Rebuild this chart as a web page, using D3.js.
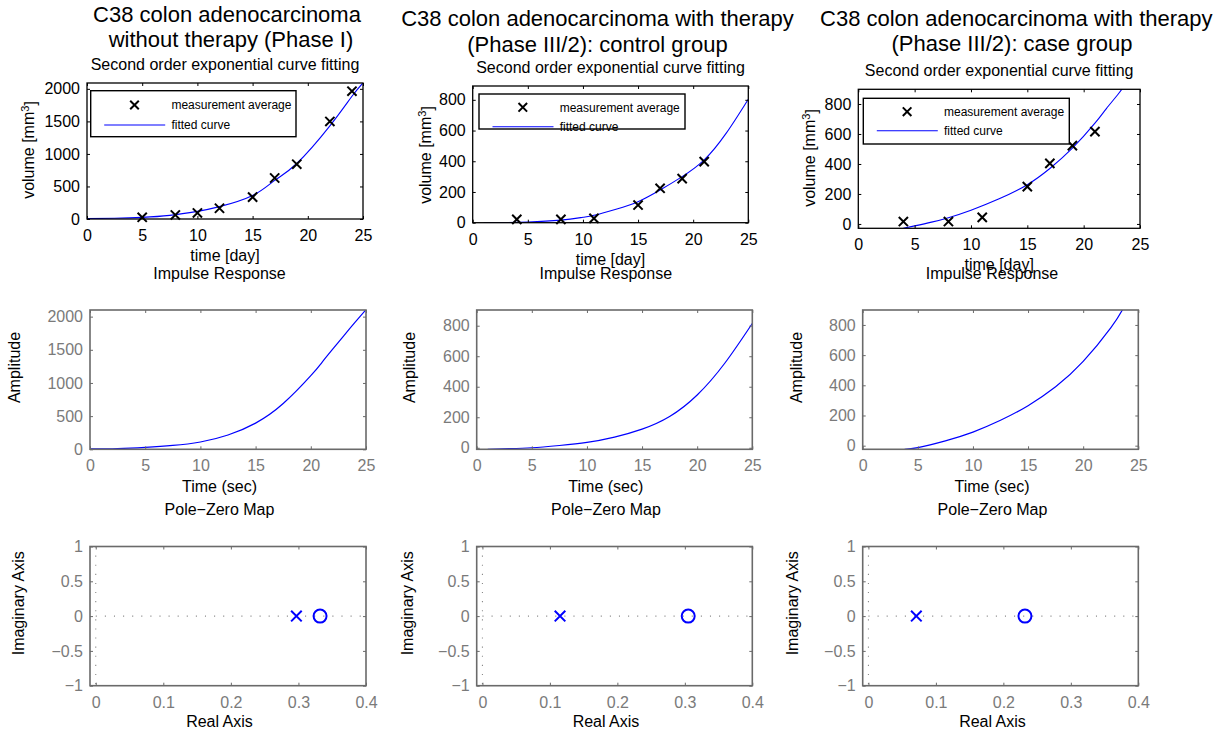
<!DOCTYPE html>
<html>
<head>
<meta charset="utf-8">
<script src="https://cdn.jsdelivr.net/npm/d3@7"></script>
<style>
  html, body { margin: 0; padding: 0; background: #fff; }
  svg { display: block; }
</style>
</head>
<body>
<script>
// ---------------- DATA ----------------
const mainTitles = [
  ["C38 colon adenocarcinoma", "without therapy (Phase I)"],
  ["C38 colon adenocarcinoma with therapy", "(Phase III/2): control group"],
  ["C38 colon adenocarcinoma with therapy", "(Phase III/2): case group"]
];
const fitTitle = "Second order exponential curve fitting";
const impulseTitle = "Impulse Response";
const pzTitle = "Pole\u2212Zero Map";
const legendLabels = ["measurement average", "fitted curve"];

const xTicksDay = [0, 5, 10, 15, 20, 25];
const yTicksLarge = [0, 500, 1000, 1500, 2000];
const yTicksSmall = [0, 200, 400, 600, 800];
const xTicksPZ = [0, 0.1, 0.2, 0.3, 0.4];
const yTicksPZ = [-1, -0.5, 0, 0.5, 1];

// measurement averages (day, volume mm^3)
const daysP1 = [5, 8, 10, 12, 15, 17, 19, 22, 24];
const volP1  = [26, 62, 93, 165, 336, 630, 842, 1499, 1964];
const daysP2 = [4, 8, 11, 15, 17, 19, 21];
const volP2  = [22, 22, 28, 115, 224, 287, 398];
const daysP3 = [4, 8, 11, 15, 17, 19, 21];
const volP3  = [16, 16, 44, 249, 404, 522, 616];

// fitted curves
const fitT1 = [0, 2.5, 5, 7.5, 10, 12, 15, 17, 19, 22, 24, 25];
const fitV1 = [5, 12, 25, 55, 117, 190, 362, 594, 853, 1431, 1886, 2093];
const fitT2 = [1, 3, 5, 8, 10, 11, 13, 15, 17, 19, 21, 23, 25];
const fitV2 = [0, 1, 4, 17, 35, 48, 88, 137, 213, 300, 409, 583, 804];
const fitT3 = [4, 5, 6.5, 8, 10, 12.5, 15, 17, 19, 21, 22, 23, 23.6];
const fitV3 = [-29, -13, 12, 42, 92, 168, 262, 370, 505, 672, 768, 860, 920];

// impulse responses
const impT1 = [0, 2.5, 5, 7.5, 10, 12.5, 15, 17.5, 20, 21, 22, 23, 24, 25];
const impV1 = [5, 12, 30, 58, 110, 215, 395, 690, 1110, 1308, 1513, 1715, 1913, 2105];
const impT2 = [1, 3, 5, 7.5, 10, 12.5, 15, 17.5, 20, 22.5, 25];
const impV2 = [-10, -6, 0, 15, 35, 70, 122, 205, 346, 554, 815];
const impT3 = [3.8, 5, 7.5, 10, 12.5, 15, 17.5, 20, 22.5, 23.6];
const impV3 = [-24, -13, 32, 90, 168, 265, 390, 558, 780, 905];

// pole-zero maps (real parts; imaginary = 0)
const polesRe = [0.297, 0.115, 0.071];
const zerosRe = [0.332, 0.305, 0.232];

// ---------------- DRAWING ----------------
const FONT = "'Liberation Sans', Arial, Helvetica, sans-serif";
const svg = d3.select("body").append("svg").attr("width", 1224).attr("height", 735);
svg.append("rect").attr("width", 1224).attr("height", 735).attr("fill", "#fff");
let clipCount = 0;

function makeAxes(cfg) {
  const x = d3.scaleLinear().domain(cfg.xDomain).range([cfg.left, cfg.right]);
  const y = d3.scaleLinear().domain(cfg.yDomain).range([cfg.bottom, cfg.top]);
  const id = "clip" + (clipCount++);
  svg.append("clipPath").attr("id", id).append("rect")
    .attr("x", cfg.left).attr("y", cfg.top)
    .attr("width", cfg.right - cfg.left).attr("height", cfg.bottom - cfg.top);
  const fmt = d3.format("");
  const defs = [
    [d3.axisBottom(x).tickValues(cfg.xTicks).tickFormat(fmt).tickPadding(10.5), `translate(0,${cfg.bottom})`],
    [d3.axisTop(x).tickValues(cfg.xTicks).tickFormat(""), `translate(0,${cfg.top})`],
    [d3.axisLeft(y).tickValues(cfg.yTicks).tickFormat(fmt).tickPadding(7), `translate(${cfg.left},0)`],
    [d3.axisRight(y).tickValues(cfg.yTicks).tickFormat(""), `translate(${cfg.right},0)`]
  ];
  const content = svg.append("g").attr("clip-path", `url(#${id})`);
  defs.forEach(([ax, tr]) => {
    const g = svg.append("g").attr("transform", tr)
      .call(ax.tickSizeInner(-3).tickSizeOuter(0));
    g.select(".domain").remove();
    g.selectAll("line").attr("stroke", cfg.boxColor).attr("stroke-width", 1);
    g.selectAll("text").attr("fill", cfg.labelColor)
      .style("font-family", FONT).style("font-size", cfg.tickFont + "px");
  });
  svg.append("rect").attr("x", cfg.left).attr("y", cfg.top)
    .attr("width", cfg.right - cfg.left).attr("height", cfg.bottom - cfg.top)
    .attr("fill", "none").attr("stroke", cfg.boxColor).attr("stroke-width", cfg.boxWidth);
  return { x, y, content };
}

function text(str, x, y, opts = {}) {
  const t = svg.append("text").attr("x", x).attr("y", y)
    .attr("text-anchor", opts.anchor || "middle")
    .style("font-family", FONT).style("font-size", (opts.size || 16) + "px")
    .attr("fill", opts.color || "#000").text(str);
  if (opts.rotate) t.attr("transform", `rotate(-90,${x},${y})`);
  return t;
}

function xMark(g, cx, cy, h, color, w) {
  g.append("path")
    .attr("d", `M${cx - h},${cy - h}L${cx + h},${cy + h}M${cx - h},${cy + h}L${cx + h},${cy - h}`)
    .attr("stroke", color).attr("stroke-width", w).attr("fill", "none");
}

const topCfgs = [
  { left: 87, right: 363, top: 83, bottom: 219, yDomain: [0, 2090], yTicks: yTicksLarge,
    days: daysP1, vol: volP1, ft: fitT1, fv: fitV1,
    legend: { x: 90.7, y: 90.7, w: 205.3, h: 46, r1: 14.3, r2: 34.3 },
    ylab: { x: 34, y: 150 }, titleY: [21.7, 47.3], titleX: [227, 231] },
  { left: 472.7, right: 748.3, top: 86, bottom: 222.7, yDomain: [0, 890], yTicks: yTicksSmall,
    days: daysP2, vol: volP2, ft: fitT2, fv: fitV2,
    legend: { x: 479, y: 94, w: 206, h: 35, r1: 13.3, r2: 32.7 },
    ylab: { x: 430.5, y: 155 }, titleY: [26, 51.7], titleX: [597.5, 597.4] },
  { left: 858.3, right: 1140, top: 89.3, bottom: 228.3, yDomain: [-29, 898], yTicks: yTicksSmall,
    days: daysP3, vol: volP3, ft: fitT3, fv: fitV3,
    legend: { x: 863.3, y: 98.3, w: 206, h: 45.7, r1: 13.4, r2: 32.4 },
    ylab: { x: 814.6, y: 158 }, titleY: [26, 51.2], titleX: [1016.3, 1012] }
];

topCfgs.forEach((c, i) => {
  const a = makeAxes({ left: c.left, right: c.right, top: c.top, bottom: c.bottom,
    xDomain: [0, 25], yDomain: c.yDomain, xTicks: xTicksDay, yTicks: c.yTicks,
    boxColor: "#000", labelColor: "#000", tickFont: 16, boxWidth: 1.3 });
  const line = d3.line().x(d => a.x(d[0])).y(d => a.y(d[1])).curve(d3.curveNatural);
  a.content.append("path").datum(d3.zip(c.ft, c.fv)).attr("d", line)
    .attr("fill", "none").attr("stroke", "#0000ff").attr("stroke-width", 1.1);
  const mg = svg.append("g");
  d3.zip(c.days, c.vol).forEach(d => xMark(mg, a.x(d[0]), a.y(d[1]), 4.6, "#000", 2));
  // legend
  const L = c.legend;
  svg.append("rect").attr("x", L.x).attr("y", L.y).attr("width", L.w).attr("height", L.h)
    .attr("fill", "#fff").attr("stroke", "#000").attr("stroke-width", 1.4);
  xMark(svg, L.x + 43.8, L.y + L.r1, 4.3, "#000", 2);
  svg.append("line").attr("x1", L.x + 13.5).attr("x2", L.x + 74.5)
    .attr("y1", L.y + L.r2).attr("y2", L.y + L.r2).attr("stroke", "#0000ff").attr("stroke-width", 1.1);
  text(legendLabels[0], L.x + 80.7, L.y + L.r1 + 4.2, { anchor: "start", size: 12 });
  text(legendLabels[1], L.x + 80.7, L.y + L.r2 + 4.2, { anchor: "start", size: 12 });
  // titles
  const cx = (c.left + c.right) / 2;
  text(mainTitles[i][0], c.titleX[0], c.titleY[0], { size: 22 });
  text(mainTitles[i][1], c.titleX[1], c.titleY[1], { size: 22 });
  text(fitTitle, cx, c.top - 13, { size: 16 });
  text("time [day]", cx, c.bottom + 42, { size: 16 });
  // y label with superscript
  const yl = svg.append("text").attr("x", c.ylab.x).attr("y", c.ylab.y)
    .attr("text-anchor", "middle").attr("transform", `rotate(-90,${c.ylab.x},${c.ylab.y})`)
    .style("font-family", FONT).style("font-size", "16px").attr("fill", "#000");
  yl.append("tspan").text("volume [mm");
  yl.append("tspan").attr("dy", "-0.45em").style("font-size", "11px").text("3");
  yl.append("tspan").attr("dy", "0.45em").text("]");
});

const GREY_BOX = "#6a6a6a";
const GREY_TXT = "#7a7a7a";

const midCfgs = [
  { left: 90, right: 366, yDomain: [0, 2100], yTicks: yTicksLarge, t: impT1, v: impV1, ylabX: 19.6, cx: 219.5 },
  { left: 476.7, right: 752.3, yDomain: [-10, 903], yTicks: yTicksSmall, t: impT2, v: impV2, ylabX: 414.8, cx: 605.8 },
  { left: 862.7, right: 1138.3, yDomain: [-24, 899], yTicks: yTicksSmall, t: impT3, v: impV3, ylabX: 801.5, cx: 992 }
];
midCfgs.forEach(c => {
  const a = makeAxes({ left: c.left, right: c.right, top: 310, bottom: 449.3,
    xDomain: [0, 25], yDomain: c.yDomain, xTicks: xTicksDay, yTicks: c.yTicks,
    boxColor: GREY_BOX, labelColor: GREY_TXT, tickFont: 16, boxWidth: 1.6 });
  const line = d3.line().x(d => a.x(d[0])).y(d => a.y(d[1])).curve(d3.curveNatural);
  a.content.append("path").datum(d3.zip(c.t, c.v)).attr("d", line)
    .attr("fill", "none").attr("stroke", "#0000ff").attr("stroke-width", 1.2);
  text(impulseTitle, c.cx, 278.5, { size: 16 });
  text("Time (sec)", c.cx, 491.7, { size: 16 });
  text("Amplitude", c.ylabX, 367.5, { size: 16, rotate: true });
});

const pzCfgs = [
  { left: 90, right: 366, ylabX: 24.3, cx: 219.5 },
  { left: 476.7, right: 752.3, ylabX: 413, cx: 606 },
  { left: 862.7, right: 1138.3, ylabX: 798.5, cx: 992.5 }
];
pzCfgs.forEach((c, i) => {
  const a = makeAxes({ left: c.left, right: c.right, top: 546.5, bottom: 685.7,
    xDomain: [-0.0085, 0.4], yDomain: [-1, 1], xTicks: xTicksPZ, yTicks: yTicksPZ,
    boxColor: GREY_BOX, labelColor: GREY_TXT, tickFont: 16, boxWidth: 1.6 });
  a.content.append("line").attr("x1", a.x(0)).attr("x2", a.x(0))
    .attr("y1", a.y(1)).attr("y2", a.y(-1))
    .attr("stroke", "#8a8a8a").attr("stroke-width", 1.1).attr("stroke-dasharray", "1.1,8");
  a.content.append("line").attr("x1", a.x(0)).attr("x2", a.x(0.4))
    .attr("y1", a.y(0)).attr("y2", a.y(0))
    .attr("stroke", "#8a8a8a").attr("stroke-width", 1.1).attr("stroke-dasharray", "1.1,8");
  xMark(a.content, a.x(polesRe[i]), a.y(0), 5.3, "#0000ff", 2);
  a.content.append("circle").attr("cx", a.x(zerosRe[i])).attr("cy", a.y(0)).attr("r", 6.5)
    .attr("fill", "none").attr("stroke", "#0000ff").attr("stroke-width", 2);
  text(pzTitle, c.cx, 515, { size: 16 });
  text("Real Axis", c.cx, 726.7, { size: 16 });
  text("Imaginary Axis", c.ylabX, 603.3, { size: 16, rotate: true });
});
</script>
</body>
</html>
